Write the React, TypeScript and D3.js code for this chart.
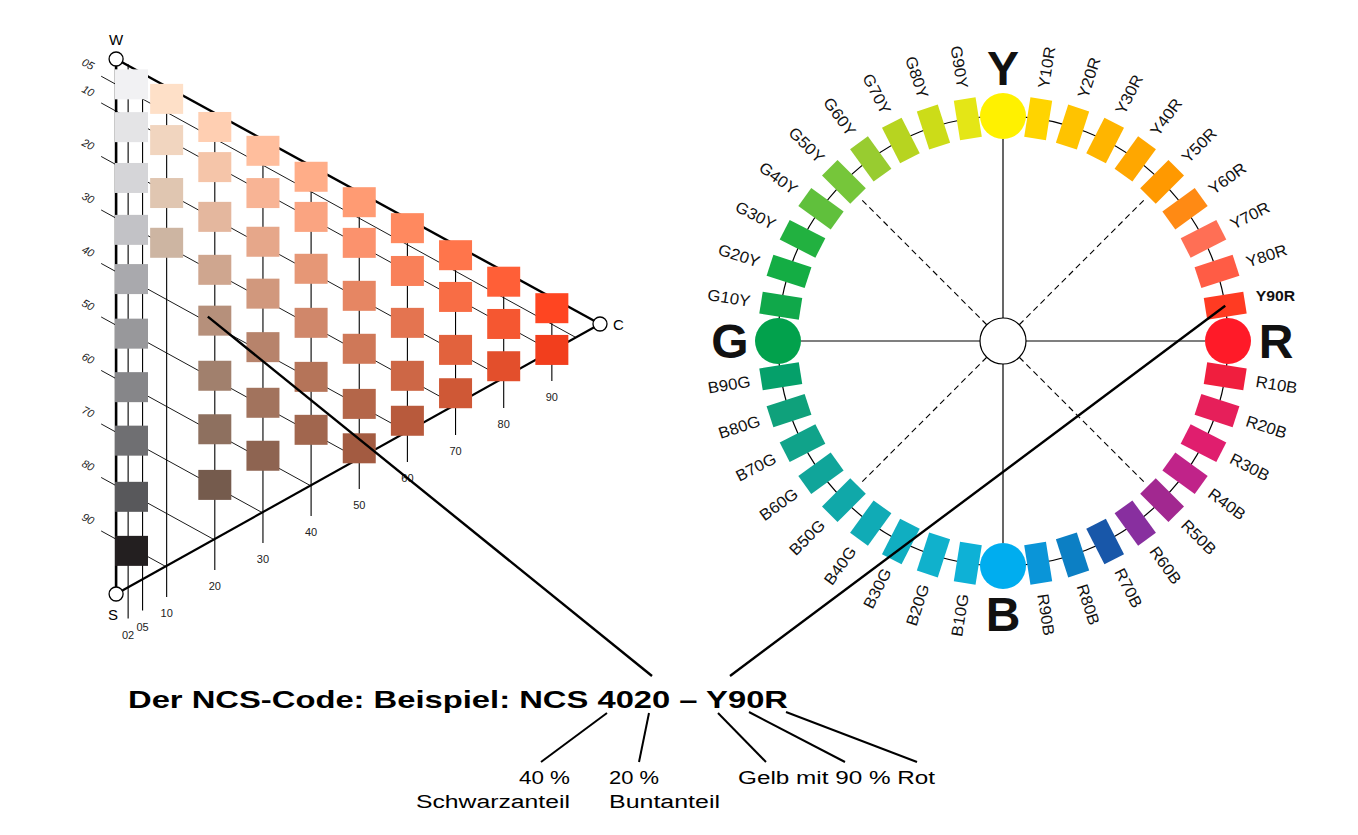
import React from "react";
import * as d3 from "d3";

// ---------- NCS triangle data ----------
const blackTickValues = [5, 10, 20, 30, 40, 50, 60, 70, 80, 90];
const chromaTickValues = [2, 5, 10, 20, 30, 40, 50, 60, 70, 80, 90];
const grayColumnChroma = 2.7;
const grayBlackness = [3.4, 11.4, 20.9, 30.6, 39.8, 50, 60, 70, 80.5, 90.6];
const grayColors = ["#f1f1f3", "#e4e4e6", "#d5d5d8", "#c2c2c6", "#a9a9ad", "#98989b", "#868689", "#6f6f72", "#58585b", "#231f20"];
const columnChroma = [10, 20, 30, 40, 50, 60, 70, 80, 90];
const columnBlackness = [
  [2.5, 10.2, 20.1, 29.4],
  [2.8, 10.3, 19.6, 29.5, 39, 49.3, 59.3, 69.7],
  [2.3, 10.2, 19.3, 29, 39, 49.4, 59.3],
  [2.2, 9.7, 19.4, 29.5, 39.6, 49.5],
  [2, 9.6, 19.5, 29.4, 39.7, 48],
  [1.9, 9.9, 19.6, 29.5, 37.9],
  [2, 9.8, 19.7, 27.8],
  [2, 9.9, 17.8],
  [2, 9.8],
];
const exampleBlackness = 40;
const exampleChroma = 20;

// ---------- NCS hue circle data ----------
const hueNames = [
  "Y", "Y10R", "Y20R", "Y30R", "Y40R", "Y50R", "Y60R", "Y70R", "Y80R", "Y90R",
  "R", "R10B", "R20B", "R30B", "R40B", "R50B", "R60B", "R70B", "R80B", "R90B",
  "B", "B10G", "B20G", "B30G", "B40G", "B50G", "B60G", "B70G", "B80G", "B90G",
  "G", "G10Y", "G20Y", "G30Y", "G40Y", "G50Y", "G60Y", "G70Y", "G80Y", "G90Y",
];
const hueColors = [
  "#fff100", "#ffd400", "#ffc300", "#ffb500", "#ffa700", "#ff9900", "#ff8a14", "#ff6f55", "#ff5c45", "#ff3b22",
  "#ff1a28", "#f01e3e", "#e61f5a", "#e01e6e", "#c02389", "#a22890", "#882f9f", "#1857a9", "#0c7fc4", "#0a95d8",
  "#00adef", "#0eb1d6", "#10b1cc", "#10aec1", "#10abb6", "#10a8a9", "#10a59a", "#10a38a", "#0fa17b", "#05a06a",
  "#02a14c", "#10a84a", "#14ad44", "#22b140", "#60c03c", "#76c63a", "#98cc30", "#b7d420", "#ccdc18", "#e4e616",
];
const exampleHue = "Y90R";

const titleText = "Der NCS-Code: Beispiel: NCS 4020 – Y90R";
const FONT = "'Liberation Sans', Arial, Helvetica, sans-serif";

export default function App() {
  // triangle scales
  const tx = d3.scaleLinear().domain([0, 100]).range([118.5, 600]);
  const tys = d3.scaleLinear().domain([0, 100]).range([59, 594]);
  const tyc = d3.scaleLinear().domain([0, 100]).range([0, 265]);
  const P = (s: number, c: number): [number, number] => [tx(c), tys(s) + tyc(c)];
  const axisX = tx(-0.5);
  const Wp: [number, number] = [axisX, tys(0)];
  const Sp: [number, number] = [axisX, tys(100)];
  const Cp = P(0, 100);

  const grayL = d3
    .scaleLinear()
    .domain(grayBlackness)
    .range(grayColors.map((c) => d3.lab(c).l))
    .clamp(true);
  const sampleColor = (s: number, c: number) => {
    const t = c / 100;
    const L = grayL(s) * (1 - t) + 57 * (1 - s / 100) * t;
    const f = 1 - (0.6 * s) / 100;
    const a = 0.8 * c * f;
    const b = (10 + 0.6 * c) * f;
    return d3.lab(L, a, b).formatHex();
  };

  const sqW = 33, sqH = 30;
  const squares: { x: number; y: number; fill: string }[] = [];
  grayBlackness.forEach((s, i) => {
    const [x, y] = P(s, grayColumnChroma);
    squares.push({ x, y, fill: grayColors[i] });
  });
  columnChroma.forEach((c, ci) => {
    columnBlackness[ci].forEach((s) => {
      const [x, y] = P(s, c);
      squares.push({ x, y, fill: sampleColor(s, c) });
    });
  });

  const exIdx = columnChroma.indexOf(exampleChroma);
  const exS = columnBlackness[exIdx].reduce((a, b) => (Math.abs(b - exampleBlackness) < Math.abs(a - exampleBlackness) ? b : a));
  const exPos = P(exS, exampleChroma);

  // circle scales
  const cx = 1003, cy = 341, R = 225;
  const ang = d3.scaleLinear().domain([0, hueNames.length]).range([0, 360]);
  const polar = (i: number, r: number): [number, number] => {
    const a = (ang(i) * Math.PI) / 180;
    return [cx + r * Math.sin(a), cy - r * Math.cos(a)];
  };
  const exHueIdx = hueNames.indexOf(exampleHue);
  const exHuePos = polar(exHueIdx, R);

  const lineGen = d3.line();

  return (
    <svg width={1358} height={835} style={{ position: "absolute", left: 0, top: 0, background: "#fff" }} fontFamily={FONT}>
      <rect x={0} y={0} width={1358} height={835} fill="#fff" />
      {/* ---------- Triangle ---------- */}
      {/* blackness lines */}
      {blackTickValues.map((s) => (
        <path key={"bl" + s} d={lineGen([P(s, -3.6), P(s, 100 - s)]) || ""} stroke="#000" strokeWidth={0.9} fill="none" />
      ))}
      {/* chromaticness lines */}
      {chromaTickValues.map((c) => {
        const top = P(0, c);
        const edge = P(100 - c, c);
        return <path key={"cl" + c} d={lineGen([top, [edge[0], edge[1] + 30]]) || ""} stroke="#000" strokeWidth={1.1} fill="none" />;
      })}
      {/* labels */}
      {blackTickValues.map((s) => {
        const [x, y] = P(s, -6.3);
        return (
          <text key={"blt" + s} x={0} y={0} transform={`translate(${x},${y - 5}) rotate(27)`} fontSize={11} fontStyle="italic" textAnchor="middle" dominantBaseline="central" fill="#222">
            {String(s).padStart(2, "0")}
          </text>
        );
      })}
      {chromaTickValues.map((c) => {
        const edge = P(100 - c, c);
        return (
          <text key={"clt" + c} x={edge[0]} y={edge[1] + 46} fontSize={11} textAnchor="middle" dominantBaseline="central" fill="#222">
            {String(c).padStart(2, "0")}
          </text>
        );
      })}
      {/* edges */}
      <path d={lineGen([Wp, Sp]) || ""} stroke="#000" strokeWidth={2.6} fill="none" />
      <path d={lineGen([Wp, Cp]) || ""} stroke="#000" strokeWidth={2.4} fill="none" />
      <path d={lineGen([Sp, Cp]) || ""} stroke="#000" strokeWidth={2.2} fill="none" />
      {/* samples */}
      {squares.map((q, i) => (
        <rect key={"sq" + i} x={q.x - sqW / 2} y={q.y - sqH / 2} width={sqW} height={sqH} fill={q.fill} />
      ))}
      {/* corners */}
      {[Wp, Sp, Cp].map((p, i) => (
        <circle key={"corner" + i} cx={p[0]} cy={p[1]} r={7} fill="#fff" stroke="#000" strokeWidth={1.3} />
      ))}
      <text x={Wp[0]} y={Wp[1] - 20} fontSize={15} textAnchor="middle" dominantBaseline="central">W</text>
      <text x={Sp[0] - 3} y={Sp[1] + 20} fontSize={15} textAnchor="middle" dominantBaseline="central">S</text>
      <text x={Cp[0] + 13} y={Cp[1]} fontSize={15} textAnchor="start" dominantBaseline="central">C</text>

      {/* ---------- Hue circle ---------- */}
      <circle cx={cx} cy={cy} r={R} fill="none" stroke="#000" strokeWidth={1.2} />
      {[0, 10, 20, 30].map((i) => (
        <path key={"sp" + i} d={lineGen([polar(i, 23), polar(i, R - 23)]) || ""} stroke="#000" strokeWidth={1.2} fill="none" />
      ))}
      {[5, 15, 25, 35].map((i) => (
        <path key={"dsp" + i} d={lineGen([polar(i, 23), polar(i, R - 22)]) || ""} stroke="#000" strokeWidth={1.1} strokeDasharray="6,4" fill="none" />
      ))}
      <circle cx={cx} cy={cy} r={23} fill="#fff" stroke="#000" strokeWidth={1.2} />
      {hueNames.map((name, i) => {
        const [x, y] = polar(i, R);
        const deg = ang(i);
        if (i % 10 === 0) {
          const [lx, ly] = polar(i, 273);
          return (
            <g key={"h" + i}>
              <circle cx={x} cy={y} r={23} fill={hueColors[i]} />
              <text x={lx} y={ly} fontSize={48} fontWeight="bold" textAnchor="middle" dominantBaseline="central" fill="#111">
                {name}
              </text>
            </g>
          );
        }
        const [lx, ly] = polar(i, 256);
        const isEx = name === exampleHue;
        const rot = isEx ? 0 : deg <= 180 ? deg - 90 : deg - 270;
        const anchor = deg <= 180 ? "start" : "end";
        return (
          <g key={"h" + i}>
            <rect x={-11} y={-20} width={22} height={40} fill={hueColors[i]} transform={`translate(${x},${y}) rotate(${deg})`} />
            <text
              x={0}
              y={0}
              transform={`translate(${lx},${ly + (isEx ? -5 : 0)}) rotate(${rot}) scale(1.05,1)`}
              fontSize={isEx ? 15 : 16}
              fontWeight={isEx ? "bold" : "normal"}
              textAnchor={anchor}
              dominantBaseline="central"
              fill="#111"
            >
              {name}
            </text>
          </g>
        );
      })}

      {/* ---------- Pointers ---------- */}
      <path d={lineGen([[exPos[0] - 7, exPos[1] - 4], [652, 676]]) || ""} stroke="#000" strokeWidth={2.4} fill="none" />
      <path d={lineGen([exHuePos, [730, 676]]) || ""} stroke="#000" strokeWidth={2.4} fill="none" />

      {/* ---------- Title and explanation ---------- */}
      <text x={128} y={708} fontSize={24} fontWeight="bold" textLength={660} lengthAdjust="spacingAndGlyphs" fill="#000">
        {titleText}
      </text>
      {[
        [607, 713, 541, 762],
        [649, 713, 639, 762],
        [718, 713, 766, 762],
        [749, 712, 845, 762],
        [786, 712, 917, 762],
      ].map((l, i) => (
        <line key={"cl" + i} x1={l[0]} y1={l[1]} x2={l[2]} y2={l[3]} stroke="#000" strokeWidth={2} />
      ))}
      <text x={570} y={784} fontSize={18} textAnchor="end" textLength={51} lengthAdjust="spacingAndGlyphs">40 %</text>
      <text x={570} y={808} fontSize={18} textAnchor="end" textLength={154} lengthAdjust="spacingAndGlyphs">Schwarzanteil</text>
      <text x={609} y={784} fontSize={18} textAnchor="start" textLength={50} lengthAdjust="spacingAndGlyphs">20 %</text>
      <text x={609} y={808} fontSize={18} textAnchor="start" textLength={111} lengthAdjust="spacingAndGlyphs">Buntanteil</text>
      <text x={738} y={784} fontSize={18} textAnchor="start" textLength={197} lengthAdjust="spacingAndGlyphs">Gelb mit 90 % Rot</text>
    </svg>
  );
}
